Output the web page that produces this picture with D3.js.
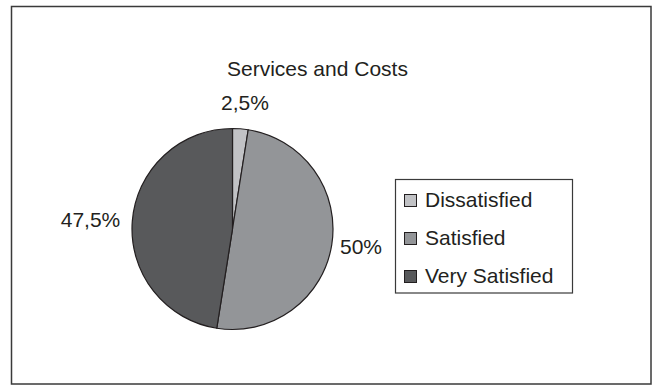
<!DOCTYPE html>
<html>
<head>
<meta charset="utf-8">
<script src="https://cdn.jsdelivr.net/npm/d3@7"></script>
<style>
  html, body { margin: 0; padding: 0; background: #fff; }
  svg { display: block; font-family: "Liberation Sans", Arial, sans-serif; }
</style>
</head>
<body>
<svg id="chart" width="654" height="385"></svg>
<script>
// Survey answers for "Services and Costs"
const categories = ["Dissatisfied", "Satisfied", "Very Satisfied"];
const shares = [2.5, 50, 47.5];
const shareLabels = ["2,5%", "50%", "47,5%"];
const fills = ["#c1c2c5", "#939598", "#58595b"];

const svg = d3.select("#chart");
const stroke = "#231f20";
const ink = "#231f20";
const fontSize = 21;

// outer frame
svg.append("rect")
  .attr("x", 11.5).attr("y", 6.5)
  .attr("width", 639.5).attr("height", 377.5)
  .attr("fill", "none").attr("stroke", "#3a3a3a").attr("stroke-width", 1.5);

// title
svg.append("text")
  .attr("x", 227).attr("y", 76)
  .attr("font-size", fontSize)
  .attr("fill", ink)
  .text("Services and Costs");

const cx = 232.5, cy = 229, r = 100.5;
const g = svg.append("g").attr("transform", `translate(${cx},${cy})`);

const pie = d3.pie().sort(null).value(d => d)(shares);
const arc = d3.arc().innerRadius(0).outerRadius(r);

g.selectAll("path.slice")
  .data(pie)
  .join("path")
  .attr("class", "slice")
  .attr("d", arc)
  .attr("fill", (d, i) => fills[i])
  .attr("stroke", stroke)
  .attr("stroke-width", 1.2)
  .attr("stroke-linejoin", "round");

// percentage labels outside the rim (baseline positions relative to the centre)
const labelOffsets = [
  { dx: 12.5, dy: -119 },   // small slice, above the rim
  { dx: 128.5, dy: 25.3 },  // right of the rim
  { dx: -142, dy: -1.7 }    // left of the rim
];
const labelPos = pie.map((d, i) => ({
  x: labelOffsets[i].dx,
  y: labelOffsets[i].dy,
  text: shareLabels[i]
}));

g.selectAll("text.pct")
  .data(labelPos)
  .join("text")
  .attr("class", "pct")
  .attr("x", d => d.x)
  .attr("y", d => d.y)
  .attr("text-anchor", "middle")
  .attr("font-size", fontSize)
  .attr("fill", ink)
  .text(d => d.text);

// legend
const legend = svg.append("g");
legend.append("rect")
  .attr("x", 395.5).attr("y", 179.5)
  .attr("width", 177).attr("height", 113.5)
  .attr("fill", "#fff").attr("stroke", "#3a3a3a").attr("stroke-width", 1.2);

const rowY = d3.scalePoint().domain(categories).range([200.5, 276.5]);
const items = legend.selectAll("g.item")
  .data(categories)
  .join("g")
  .attr("class", "item")
  .attr("transform", d => `translate(0,${rowY(d)})`);

items.append("rect")
  .attr("x", 404.5).attr("y", -6)
  .attr("width", 12).attr("height", 12)
  .attr("fill", (d, i) => fills[i])
  .attr("stroke", stroke).attr("stroke-width", 1);

items.append("text")
  .attr("x", 425)
  .attr("y", 6.5)
  .attr("font-size", fontSize)
  .attr("fill", ink)
  .text(d => d);
</script>
</body>
</html>
